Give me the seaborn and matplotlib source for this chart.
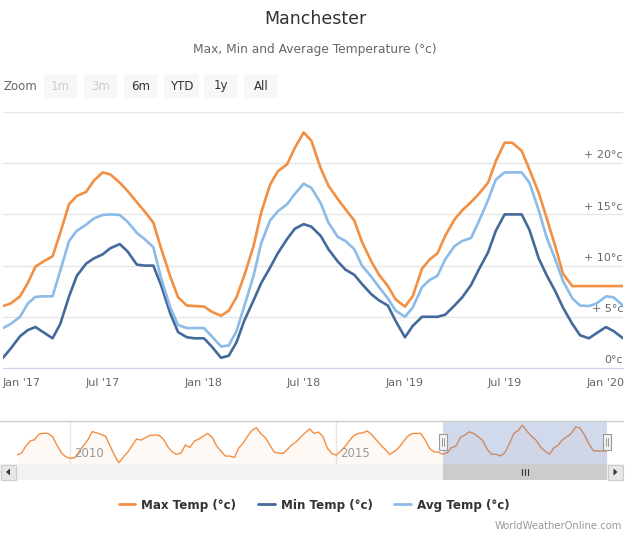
import pandas as pd
import matplotlib
matplotlib.use('Agg')
import matplotlib.pyplot as plt
import matplotlib.dates as mdates
from matplotlib.lines import Line2D
from matplotlib.patches import Rectangle, Polygon
import seaborn as sns

# --- values: half-month steps, Jan 2017 - Feb 2020 ---
max_temp = [6.05, 6.3, 7.0, 8.3, 9.9, 10.4, 10.9, 13.2, 16.0, 16.8,
            17.2, 18.3, 19.1, 18.9, 18.1, 17.3, 16.2, 15.3, 14.2, 11.7,
            8.9, 6.9, 6.1, 6.05, 6.0, 5.5, 5.1, 5.6, 6.9, 9.0,
            11.9, 15.2, 17.9, 19.2, 19.9, 21.5, 23.0, 22.2, 19.5, 17.8,
            16.5, 15.5, 14.4, 12.3, 10.4, 9.1, 8.0, 6.7, 6.0, 7.0,
            9.7, 10.6, 11.2, 12.9, 14.5, 15.4, 16.2, 17.0, 18.1, 20.2,
            22.0, 22.0, 21.2, 19.4, 17.1, 14.7, 11.9, 9.2, 8.0, 8.0,
            8.0, 8.0, 8.0, 8.0, 8.0]
min_temp = [1.0, 1.9, 3.1, 3.7, 4.0, 3.5, 2.9, 4.3, 7.0, 9.0,
            10.2, 10.7, 11.1, 11.7, 12.1, 11.4, 10.1, 10.0, 10.0, 8.1,
            5.3, 3.5, 3.0, 2.9, 2.9, 2.1, 1.0, 1.2, 2.5, 4.6,
            6.6, 8.3, 9.8, 11.2, 12.6, 13.6, 14.05, 13.8, 12.9, 11.6,
            10.4, 9.6, 9.1, 8.2, 7.2, 6.6, 6.1, 4.6, 3.0, 4.1,
            5.0, 5.0, 5.0, 5.2, 6.1, 6.9, 8.1, 9.6, 11.3, 13.4,
            15.0, 15.0, 15.0, 13.5, 10.7, 9.1, 7.5, 5.9, 4.3, 3.2,
            2.9, 3.4, 4.0, 3.6, 2.9]
avg_temp = [3.9, 4.3, 5.0, 6.3, 6.95, 7.0, 7.0, 9.5, 12.4, 13.4,
            14.0, 14.6, 14.95, 15.0, 14.95, 14.3, 13.2, 12.6, 11.8, 8.8,
            5.9, 4.2, 3.9, 3.9, 3.9, 3.1, 2.1, 2.2, 3.6, 6.0,
            9.0, 12.2, 14.4, 15.3, 16.0, 17.0, 18.0, 17.6, 16.1, 14.2,
            12.8, 12.4, 11.6, 10.0, 8.9, 7.9, 6.8, 5.6, 5.0, 5.9,
            7.9, 8.6, 9.0, 10.6, 11.9, 12.4, 12.7, 14.3, 16.4, 18.4,
            19.1, 19.1, 19.1, 18.1, 15.4, 12.8, 10.6, 8.5, 6.8, 6.1,
            6.05, 6.3, 7.0, 6.9, 6.1]

# navigator series (max temp), monthly Jan 2009 - Feb 2020
nav_max = [5.6, 6.8, 10.5, 13.8, 14.5, 17.8, 18.3, 18.2, 16.5, 11.5, 7.0, 4.6,
           3.7, 4.0, 7.5, 11.0, 14.3, 19.2, 18.5, 17.6, 16.5, 11.0, 5.5, 1.1,
           4.5, 7.5, 11.0, 14.9, 14.3, 15.6, 17.0, 17.2, 17.2, 15.0, 10.5, 7.5,
           6.0, 6.8, 11.5, 10.0, 13.7, 14.9, 16.5, 18.2, 16.0, 11.0, 7.8, 5.0,
           5.0, 4.2, 9.5, 12.5, 16.5, 20.0, 21.5, 18.0, 15.7, 11.5, 7.3, 6.8,
           6.6, 9.0, 11.5, 13.3, 16.0, 18.5, 20.8, 18.2, 19.0, 16.3, 9.5, 6.5,
           5.6, 8.0, 10.5, 14.0, 17.0, 18.2, 18.5, 19.6, 17.5, 14.5, 11.5, 9.0,
           6.0, 7.5, 9.5, 13.0, 16.3, 18.0, 18.2, 18.2, 14.5, 9.5, 7.5, 7.3,
           6.05, 7.0, 9.9, 10.9, 16.0, 17.2, 19.1, 18.1, 16.2, 14.2, 8.9, 6.1,
           6.0, 5.1, 6.9, 11.9, 17.9, 19.9, 23.0, 19.5, 16.5, 14.4, 10.4, 8.0,
           6.0, 9.7, 11.2, 14.5, 16.2, 18.1, 22.0, 21.2, 17.1, 11.9, 8.0, 8.0,
           8.0, 8.0]

x_tick_dates = ['2017-01-01', '2017-07-01', '2018-01-01', '2018-07-01',
                '2019-01-01', '2019-07-01', '2020-01-01']
x_tick_labels = ["Jan '17", "Jul '17", "Jan '18", "Jul '18",
                 "Jan '19", "Jul '19", "Jan '20"]
y_ticks = [0, 5, 10, 15, 20]
y_tick_labels = ['0°c', '+ 5°c', '+ 10°c', '+ 15°c', '+ 20°c']
nav_years = ['2010', '2015']
zoom_buttons = ['1m', '3m', '6m', 'YTD', '1y', 'All']

series_names = ['Max Temp (°c)', 'Min Temp (°c)', 'Avg Temp (°c)']
colors = ['#f28f43', '#44699b', '#8bbbe8']

dates = pd.date_range('2017-01-01', '2020-02-01', freq='SMS')
nav_dates = pd.date_range('2009-01-01', periods=len(nav_max), freq='MS')

# --- figure setup (work in pixel coordinates of a 631x533 canvas) ---
W, H = 631, 533
sns.set_style('white')
plt.rcParams['font.family'] = ['DejaVu Sans']

fig = plt.figure(figsize=(W / 100, H / 100), dpi=100)


def fx(x):
    return x / W


def fy(y):
    return 1 - y / H


def box(x0, y0, x1, y1, **kw):
    fig.patches.append(Rectangle((fx(x0), fy(y1)), (x1 - x0) / W, (y1 - y0) / H,
                                 transform=fig.transFigure, **kw))


# titles
fig.text(fx(315), fy(19), 'Manchester', ha='center', va='center', fontsize=12.5, color='#333333')
fig.text(fx(315), fy(49), 'Max, Min and Average Temperature (°c)', ha='center', va='center',
         fontsize=8.8, color='#666666')

# range selector buttons
fig.text(fx(3), fy(86), 'Zoom', ha='left', va='center', fontsize=8.5, color='#666666')
btn_x = [44, 84, 124, 164, 204, 244]
btn_w = [33, 33, 34, 35, 34, 34]
for i, lab in enumerate(zoom_buttons):
    x0 = btn_x[i]
    box(x0, 74, x0 + btn_w[i], 98, facecolor='#f7f7f7', edgecolor='none')
    fig.text(fx(x0 + btn_w[i] / 2), fy(86), lab, ha='center', va='center', fontsize=8.5,
             color='#cccccc' if i < 2 else '#333333')

# --- main chart ---
ax = fig.add_axes([fx(3), fy(368), 620 / W, 256 / H])
for vals, col in zip([max_temp, min_temp, avg_temp], colors):
    sns.lineplot(x=dates, y=vals, ax=ax, color=col, linewidth=1.9,
                 solid_joinstyle='round', solid_capstyle='round')

ax.set_xlim(dates[0], dates[-1])
ax.set_ylim(0, 25)
ax.set_yticks([0, 5, 10, 15, 20, 25])
ax.yaxis.grid(True, color='#e6e6e6', linewidth=1)
ax.xaxis.grid(False)
ax.tick_params(axis='y', length=0, labelleft=False)
for s in ['top', 'left', 'right']:
    ax.spines[s].set_visible(False)
ax.spines['bottom'].set_color('#ccd6eb')
ax.set_xlabel('')
ax.set_ylabel('')

ax.set_xticks(pd.to_datetime(x_tick_dates))
ax.set_xticklabels(x_tick_labels, fontsize=8, color='#666666')
ax.tick_params(axis='x', length=9, width=1, color='#ccd6eb', pad=-1.5)
ax.get_xticklabels()[0].set_ha('left')

for v, lab in zip(y_ticks, y_tick_labels):
    ax.annotate(lab, xy=(1, v), xycoords=('axes fraction', 'data'), xytext=(0, 2),
                textcoords='offset points', ha='right', va='bottom', fontsize=8, color='#666666')

# --- navigator ---
nav = fig.add_axes([fx(17), fy(464), 590 / W, 43 / H])
sns.lineplot(x=nav_dates, y=nav_max, ax=nav, color=colors[0], linewidth=1.0,
             solid_joinstyle='round')
nav.fill_between(nav_dates, nav_max, 0.4, color=colors[0], alpha=0.05, linewidth=0)
nav.set_xlim(nav_dates[0], nav_dates[-1])
nav.set_ylim(0.4, 25.4)
nav.set_xlabel('')
nav.set_ylabel('')
nav.set_yticks([])
nav.set_xticks(pd.to_datetime([y + '-01-01' for y in nav_years]))
nav.xaxis.grid(True, color='#e6e6e6', linewidth=1)
nav.tick_params(axis='x', length=0, labelbottom=False)
for s in nav.spines.values():
    s.set_visible(False)
for yr in nav_years:
    nav.annotate(yr, xy=(pd.Timestamp(yr + '-01-01'), 0), xycoords=('data', 'axes fraction'),
                 xytext=(3, 3), textcoords='offset points', ha='left', va='bottom',
                 fontsize=8.5, color='#999999')

sel_start = pd.Timestamp('2017-01-01')
nav.axvspan(sel_start, nav_dates[-1], color=(102 / 255, 133 / 255, 194 / 255), alpha=0.3,
            linewidth=0, zorder=5)

fig.canvas.draw()
sx0 = nav.transData.transform((mdates.date2num(sel_start), 0))[0]
sx1 = nav.transData.transform((mdates.date2num(nav_dates[-1]), 0))[0]

# navigator outline
fig.lines.append(Line2D([0, fx(623)], [fy(421), fy(421)], transform=fig.transFigure,
                        color='#cccccc', linewidth=1))

# scrollbar
box(0, 464, 623, 480, facecolor='#f2f2f2', edgecolor='none')
box(sx0, 464, sx1, 480, facecolor='#cccccc', edgecolor='none')
box(0.5, 464.5, 16, 479.5, facecolor='#e6e6e6', edgecolor='#cccccc', linewidth=0.8)
box(607.5, 464.5, 623, 479.5, facecolor='#e6e6e6', edgecolor='#cccccc', linewidth=0.8)
fig.patches.append(Polygon([(fx(6), fy(472)), (fx(10), fy(468.5)), (fx(10), fy(475.5))],
                           closed=True, transform=fig.transFigure, facecolor='#333333',
                           edgecolor='none'))
fig.patches.append(Polygon([(fx(617.5), fy(472)), (fx(613.5), fy(468.5)), (fx(613.5), fy(475.5))],
                           closed=True, transform=fig.transFigure, facecolor='#333333',
                           edgecolor='none'))
mid = (sx0 + sx1) / 2
for dx in (-3, 0, 3):
    fig.lines.append(Line2D([fx(mid + dx)] * 2, [fy(469), fy(475)], transform=fig.transFigure,
                            color='#333333', linewidth=0.8))

# selection handles
for hx in (sx0, sx1):
    box(hx - 4, 434, hx + 4, 450, facecolor='#f2f2f2', edgecolor='#999999', linewidth=0.8)
    for dx in (-1.3, 1.3):
        fig.lines.append(Line2D([fx(hx + dx)] * 2, [fy(438), fy(446)], transform=fig.transFigure,
                                color='#999999', linewidth=0.7))

# legend
handles = [Line2D([], [], color=c, linewidth=2) for c in colors]
leg = fig.legend(handles, series_names, loc='center', bbox_to_anchor=(fx(314), fy(505)),
                 ncol=3, frameon=False, handlelength=1.4, handletextpad=0.5,
                 columnspacing=1.8, prop={'weight': 'bold', 'size': 8.6})
for t in leg.get_texts():
    t.set_color('#333333')

fig.text(fx(622), fy(526), 'WorldWeatherOnline.com', ha='right', va='center',
         fontsize=7.2, color='#999999')

fig.savefig('out.png', dpi=100)
